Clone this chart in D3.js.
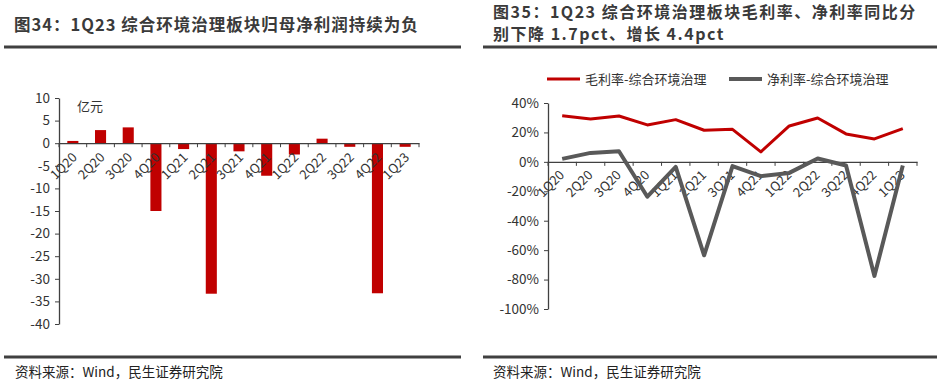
<!DOCTYPE html>
<html>
<head>
<meta charset="utf-8">
<script src="https://cdn.jsdelivr.net/npm/d3@7"></script>
<style>
  body { margin: 0; background: #fff; }
  svg text { font-family: "Noto Sans CJK SC", "Open Sans", sans-serif; }
</style>
</head>
<body>
<div id="chart"></div>
<script>
// quarters shared by both charts
var quarters = ["1Q20", "2Q20", "3Q20", "4Q20", "1Q21", "2Q21", "3Q21", "4Q21", "1Q22", "2Q22", "3Q22", "4Q22", "1Q23"]

// 图34: 归母净利润 (亿元)
var netProfit = [0.5, 2.9, 3.5, -15.0, -1.3, -33.3, -1.8, -7.2, -2.5, 1.0, -0.8, -33.2, -0.8]
var leftTicks = [10, 5, 0, -5, -10, -15, -20, -25, -30, -35, -40]

// 图35: 毛利率 / 净利率 (%)
var grossMargin = [31.4, 29.2, 31.2, 25.1, 28.7, 21.5, 22.1, 6.8, 24.4, 29.8, 19.0, 15.6, 22.6]
var netMargin = [2.0, 6.1, 7.2, -23.7, -3.4, -63.5, -2.9, -9.7, -7.5, 2.3, -2.5, -77.5, -2.5]
var rightTicks = [40, 20, 0, -20, -40, -60, -80, -100]
var seriesNames = ["毛利率-综合环境治理", "净利率-综合环境治理"]

var W = 943, H = 386
var red = "#c00000", gray = "#595959", axisColor = "#404040", textColor = "#333"

var svg = d3.select("#chart").append("svg")
    .attr("width", W)
    .attr("height", H)

// ---- titles, rules and sources ----
function title(x, y, s, fs, ls) {
    svg.append("text")
        .attr("x", x).attr("y", y)
        .attr("font-size", fs).attr("font-weight", "bold").attr("fill", "#3a3a3a")
        .attr("letter-spacing", ls)
        .text(s)
}
title(14, 31, "图34：1Q23 综合环境治理板块归母净利润持续为负", 16.5, 1)
title(493, 18, "图35：1Q23 综合环境治理板块毛利率、净利率同比分", 16, 1.5)
title(493, 40, "别下降 1.7pct、增长 4.4pct", 16, 1.5)

;[[4, 461], [483, 937]].forEach(function (r) {
    svg.append("line").attr("x1", r[0]).attr("x2", r[1]).attr("y1", 47).attr("y2", 47)
        .attr("stroke", "#404040").attr("stroke-width", 3)
    svg.append("line").attr("x1", r[0]).attr("x2", r[1]).attr("y1", 357).attr("y2", 357)
        .attr("stroke", "#404040").attr("stroke-width", 3)
})
;[15, 493].forEach(function (x) {
    svg.append("text").attr("x", x).attr("y", 377)
        .attr("font-size", 13.5).attr("fill", "#222")
        .text("资料来源：Wind，民生证券研究院")
})

// ---- left chart: bars ----
var x1 = d3.scaleBand().domain(quarters).range([59, 419]).padding(0)
var y1 = d3.scaleLinear().domain([-40, 10]).range([324, 98])

var gL = svg.append("g")

gL.selectAll("rect.bar")
    .data(netProfit)
    .enter()
    .append("rect")
    .attr("class", "bar")
    .attr("x", function (d, i) { return x1(quarters[i]) + x1.bandwidth() * 0.3 })
    .attr("width", x1.bandwidth() * 0.4)
    .attr("y", function (d) { return y1(Math.max(0, d)) })
    .attr("height", function (d) { return Math.abs(y1(d) - y1(0)) })
    .attr("fill", red)

var yAxisL = d3.axisLeft(y1).tickValues(leftTicks).tickSize(4).tickSizeOuter(0)
    .tickFormat(function (d) { return d })
gL.append("g")
    .attr("transform", "translate(59,0)")
    .call(yAxisL)
    .call(function (g) {
        g.select(".domain").attr("stroke", axisColor).attr("stroke-width", 1.3)
        g.selectAll(".tick line").attr("stroke", axisColor)
        g.selectAll(".tick text").attr("font-size", 13.5).attr("fill", textColor).attr("x", -9)
            .style("font-family", "'Noto Sans CJK SC', sans-serif")
    })

// x axis line with tick marks at category boundaries
var xAxisL = d3.axisBottom(x1).tickSize(0).tickSizeOuter(0).tickFormat("")
gL.append("g")
    .attr("transform", "translate(0," + y1(0) + ")")
    .call(xAxisL)
    .call(function (g) {
        g.select(".domain").attr("stroke", axisColor).attr("stroke-width", 1.3)
    })
gL.selectAll("line.bnd")
    .data(quarters.concat(["end"]))
    .enter()
    .append("line")
    .attr("class", "bnd")
    .attr("x1", function (d, i) { return 59 + i * x1.bandwidth() })
    .attr("x2", function (d, i) { return 59 + i * x1.bandwidth() })
    .attr("y1", y1(0)).attr("y2", y1(0) + 4)
    .attr("stroke", axisColor)

gL.selectAll("text.xlab")
    .data(quarters)
    .enter()
    .append("text")
    .attr("class", "xlab")
    .attr("font-size", 13).attr("fill", textColor)
    .attr("text-anchor", "end")
    .attr("transform", function (d) {
        return "translate(" + (x1(d) + x1.bandwidth() / 2 + 5) + "," + (y1(0) + 15) + ") rotate(-45)"
    })
    .text(function (d) { return d })

gL.append("text")
    .attr("x", 77).attr("y", 111)
    .attr("font-size", 13).attr("fill", textColor)
    .text("亿元")

// ---- right chart: lines ----
var x2 = d3.scaleBand().domain(quarters).range([548, 917]).padding(0)
var y2 = d3.scaleLinear().domain([-100, 40]).range([309, 103])

var gR = svg.append("g")

var yAxisR = d3.axisLeft(y2).tickValues(rightTicks).tickSize(4).tickSizeOuter(0)
    .tickFormat(function (d) { return d + "%" })
gR.append("g")
    .attr("transform", "translate(548,0)")
    .call(yAxisR)
    .call(function (g) {
        g.select(".domain").attr("stroke", axisColor).attr("stroke-width", 1.3)
        g.selectAll(".tick line").attr("stroke", axisColor)
        g.selectAll(".tick text").attr("font-size", 13.5).attr("fill", textColor).attr("x", -9)
            .style("font-family", "'Noto Sans CJK SC', sans-serif")
    })

gR.append("g")
    .attr("transform", "translate(0," + y2(0) + ")")
    .call(d3.axisBottom(x2).tickSize(0).tickSizeOuter(0).tickFormat(""))
    .call(function (g) {
        g.select(".domain").attr("stroke", axisColor).attr("stroke-width", 1.3)
    })
gR.selectAll("line.bnd")
    .data(quarters.concat(["end"]))
    .enter()
    .append("line")
    .attr("class", "bnd")
    .attr("x1", function (d, i) { return 548 + i * x2.bandwidth() })
    .attr("x2", function (d, i) { return 548 + i * x2.bandwidth() })
    .attr("y1", y2(0)).attr("y2", y2(0) + 4)
    .attr("stroke", axisColor)

gR.selectAll("text.xlab")
    .data(quarters)
    .enter()
    .append("text")
    .attr("class", "xlab")
    .attr("font-size", 13).attr("fill", textColor)
    .attr("text-anchor", "end")
    .attr("transform", function (d) {
        return "translate(" + (x2(d) + x2.bandwidth() / 2 + 3) + "," + (y2(0) + 14) + ") rotate(-45)"
    })
    .text(function (d) { return d })

var line = d3.line()
    .x(function (d, i) { return x2(quarters[i]) + x2.bandwidth() / 2 })
    .y(function (d) { return y2(d) })

gR.append("path")
    .datum(grossMargin)
    .attr("d", line)
    .attr("fill", "none")
    .attr("stroke", red)
    .attr("stroke-width", 3)
    .attr("stroke-linejoin", "round")

gR.append("path")
    .datum(netMargin)
    .attr("d", line)
    .attr("fill", "none")
    .attr("stroke", gray)
    .attr("stroke-width", 4)
    .attr("stroke-linejoin", "round")

// legend
var legend = [
    { name: seriesNames[0], color: red, w: 3, x: 547 },
    { name: seriesNames[1], color: gray, w: 4, x: 729 }
]
legend.forEach(function (l) {
    gR.append("line")
        .attr("x1", l.x).attr("x2", l.x + 33)
        .attr("y1", 79).attr("y2", 79)
        .attr("stroke", l.color).attr("stroke-width", l.w)
    gR.append("text")
        .attr("x", l.x + 38).attr("y", 84)
        .attr("font-size", 13).attr("fill", textColor)
        .text(l.name)
})
</script>
</body>
</html>
